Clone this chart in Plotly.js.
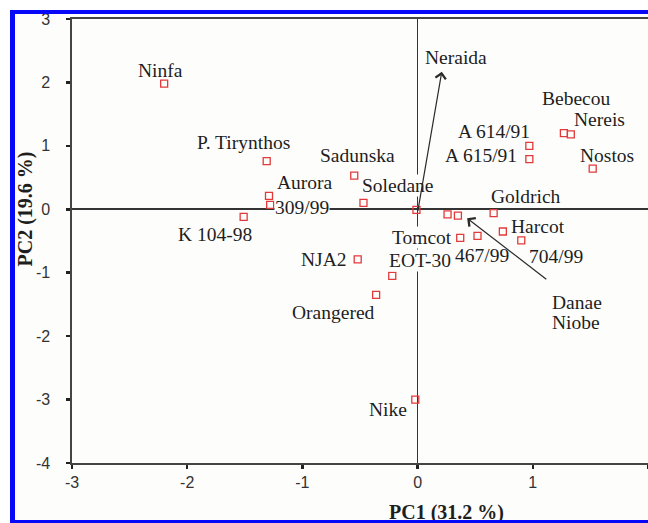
<!DOCTYPE html>
<html>
<head>
<meta charset="utf-8">
<script src="https://cdn.plot.ly/plotly-3.0.1.min.js"></script>
<style>
  html, body { margin: 0; padding: 0; background: #ffffff; }
  #wrap { position: relative; width: 648px; height: 523px; overflow: hidden; }
  #chart { position: absolute; left: 0; top: 0; width: 648px; height: 523px; }
  .strip { position: absolute; background: #ffffff; pointer-events: none; }
  #frame { position: absolute; left: 10px; top: 10px; width: 633px; height: 506px;
           border-left: 5px solid #0808f8; border-top: 4px solid #0808f8;
           border-bottom: 3px solid #0808f8; border-right: 2px solid #7a7af0;
           pointer-events: none; }
</style>
</head>
<body>
<div id="wrap">
  <div id="chart"></div>
  <div class="strip" style="left:0;top:0;width:648px;height:10px;"></div>
  <div class="strip" style="left:0;top:0;width:10px;height:523px;"></div>
  <div id="frame"></div>
</div>
<script>
// ---- data ----
const cultivars = ["Ninfa", "P. Tirynthos", "Aurora", "309/99", "K 104-98", "Sadunska", "Soledane",
  "Neraida", "Danae", "Niobe", "Goldrich", "Tomcot", "467/99", "Harcot", "704/99",
  "NJA2", "EOT-30", "Orangered", "Nike", "A 614/91", "A 615/91", "Bebecou", "Nereis", "Nostos"];
const pc1 = [-2.20, -1.31, -1.29, -1.28, -1.51, -0.55, -0.47,
  -0.01, 0.26, 0.35, 0.66, 0.37, 0.52, 0.74, 0.90,
  -0.52, -0.22, -0.36, -0.02, 0.97, 0.97, 1.27, 1.33, 1.52];
const pc2 = [1.98, 0.76, 0.21, 0.07, -0.12, 0.53, 0.10,
  -0.01, -0.08, -0.10, -0.06, -0.45, -0.42, -0.35, -0.49,
  -0.79, -1.05, -1.35, -3.00, 1.00, 0.79, 1.20, 1.18, 0.64];
const xTicks = [-3, -2, -1, 0, 1, 2];
const yTicks = [-4, -3, -2, -1, 0, 1, 2, 3];
const xTitle = "PC1 (31.2 %)";
const yTitle = "PC2 (19.6 %)";

// ---- label placement (style: pixel offsets from each point) ----
const labelDx = [-4, -23, 36, 32, -29, 3, 34, 40, 129, 118, 32, -38, 4, 35, 35, -34, 28, -43, -27, -35, -48, 12, 29, 14];
const labelDy = [-13, -19, -13, 3, 18, -20, -17, -152, 88, 107, -17, 0, 20, -5, 16, 0, -15, 18, 10, -14, -4, -35, -15, -13];
const maskedLabels = ["309/99", "Soledane", "Tomcot", "EOT-30"];
// loading arrows (decorations): tip and tail in data units
const arrowTips = [[0.21, 2.17], [0.43, -0.14]];
const arrowTails = [[0.00, -0.05], [1.13, -1.12]];

const serif = "Liberation Serif, Times New Roman, serif";
const sans = "Liberation Sans, Arial, sans-serif";

const annotations = cultivars.map((name, i) => ({
  x: pc1[i], y: pc2[i], xref: "x", yref: "y",
  text: name, showarrow: false,
  xshift: labelDx[i], yshift: -labelDy[i],
  xanchor: "center", yanchor: "middle",
  font: { family: serif, size: 19.5, color: "#1e1e1e" },
  bgcolor: maskedLabels.includes(name) ? "#fdfdfc" : "rgba(0,0,0,0)",
  borderpad: 0
}));

arrowTips.forEach((tip, k) => {
  annotations.push({
    x: tip[0], y: tip[1], xref: "x", yref: "y",
    ax: arrowTails[k][0], ay: arrowTails[k][1], axref: "x", ayref: "y",
    text: "", showarrow: true, arrowhead: 4, arrowsize: 1.7, arrowwidth: 1.2,
    arrowcolor: "#2a2a2a", standoff: 0, startstandoff: 0
  });
});

annotations.push({
  xref: "paper", yref: "paper", x: 0.651, y: -0.112, xanchor: "center", yanchor: "middle",
  text: xTitle, showarrow: false,
  font: { family: serif, size: 20, color: "#1e1e1e", weight: "bold" }
});
annotations.push({
  xref: "paper", yref: "paper", x: -0.08, y: 0.573, xanchor: "center", yanchor: "middle",
  text: yTitle, showarrow: false, textangle: -90,
  font: { family: serif, size: 20, color: "#1e1e1e", weight: "bold" }
});

const trace = {
  type: "scatter", mode: "markers",
  x: pc1, y: pc2, text: cultivars, hoverinfo: "text",
  marker: { symbol: "square-open", size: 7, color: "#e23a3a", line: { width: 1.3, color: "#e23a3a" } },
  cliponaxis: false
};

const axisCommon = {
  showgrid: false, zeroline: true, zerolinecolor: "#333333", zerolinewidth: 1.6,
  showline: true, linecolor: "#444444", linewidth: 1.6, mirror: true,
  ticks: "outside", ticklen: 4, tickwidth: 2.5, tickcolor: "#222222",
  tickfont: { family: sans, size: 16, color: "#333333" }, tickmode: "array"
};

const layout = {
  width: 648, height: 523,
  margin: { l: 72, r: 0, t: 19, b: 60 },
  paper_bgcolor: "#fdfdfc", plot_bgcolor: "#fdfdfc",
  showlegend: false,
  xaxis: Object.assign({}, axisCommon, { range: [-3, 2], tickvals: xTicks, ticktext: xTicks.map(String) }),
  yaxis: Object.assign({}, axisCommon, { range: [-4, 3], tickvals: yTicks, ticktext: yTicks.map(String), ticklabelstandoff: 13 }),
  annotations: annotations
};

Plotly.newPlot("chart", [trace], layout, { displayModeBar: false, staticPlot: true });
</script>
</body>
</html>
